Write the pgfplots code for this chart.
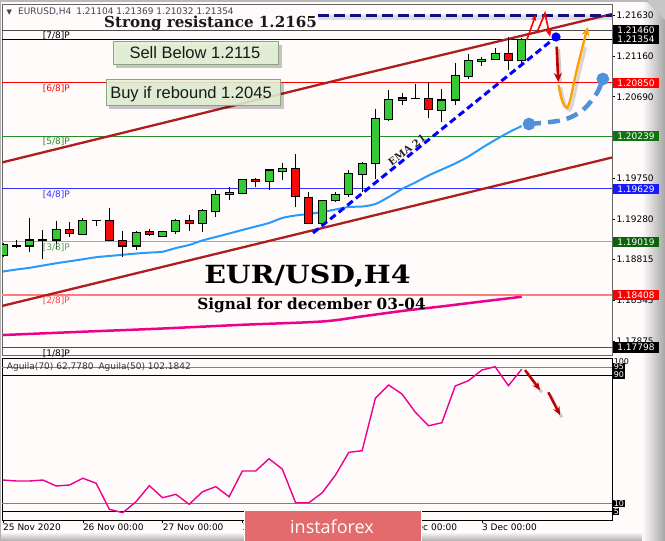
\documentclass[border=0pt]{standalone}
\usepackage{graphicx}
\usepackage{fontspec}
\setmainfont{DejaVu Sans}
\newfontfamily\hfont{DejaVu Serif}
\newfontfamily\afont{Liberation Sans}
\newfontfamily\lfont{Open Sans}
\usepackage{pgfplots}
\pgfplotsset{compat=1.18}
\usepackage{pgfplotstable}
\usetikzlibrary{arrows.meta}

\newcommand{\fs}[1]{\fontsize{#1}{#1}\selectfont}

\definecolor{bg}{RGB}{255,251,251}
\definecolor{cgreen}{RGB}{55,200,55}
\definecolor{cred}{RGB}{245,10,10}
\definecolor{mgreen}{RGB}{40,140,40}
\definecolor{lgreen}{RGB}{125,195,125}
\definecolor{mblue}{RGB}{50,50,255}
\definecolor{pinkred}{RGB}{255,125,125}
\definecolor{navyd}{RGB}{15,15,125}
\definecolor{firebrick}{RGB}{175,30,30}
\definecolor{emablue}{RGB}{40,155,250}
\definecolor{projblue}{RGB}{80,145,220}
\definecolor{dred}{RGB}{190,0,0}
\definecolor{orangec}{RGB}{255,160,0}
\definecolor{boxfill}{RGB}{227,241,213}
\definecolor{boxdraw}{RGB}{140,165,125}
\definecolor{logo}{RGB}{227,107,107}
\definecolor{boxgreen}{RGB}{15,115,15}
\definecolor{boxgreen2}{RGB}{10,100,10}
\definecolor{hdr}{RGB}{65,65,90}

% bullish candles: bar, open, high, low, close
\pgfplotstableread{
j o h l c
0 1.18866 1.19005 1.18843 1.18982
2 1.18970 1.19296 1.18904 1.19039
4 1.19039 1.19262 1.18932 1.19155
6 1.19105 1.19289 1.19100 1.19262
10 1.18970 1.19143 1.18924 1.19128
12 1.19085 1.19143 1.19070 1.19135
13 1.19135 1.19278 1.19108 1.19262
15 1.19224 1.19393 1.19135 1.19374
16 1.19366 1.19616 1.19308 1.19566
17 1.19566 1.19647 1.19500 1.19584
18 1.19578 1.19741 1.19575 1.19739
20 1.19719 1.19854 1.19616 1.19846
21 1.19834 1.19923 1.19731 1.19858
24 1.19224 1.19492 1.19193 1.19489
25 1.19489 1.19596 1.19474 1.19566
26 1.19566 1.19846 1.19535 1.19808
27 1.19797 1.19935 1.19589 1.19923
28 1.19923 1.20546 1.19742 1.20442
29 1.20430 1.20768 1.20411 1.20664
30 1.20653 1.20737 1.20595 1.20676
33 1.20530 1.20776 1.20396 1.20653
34 1.20653 1.21076 1.20595 1.20933
35 1.20921 1.21183 1.20891 1.21106
36 1.21094 1.21145 1.21045 1.21122
37 1.21122 1.21249 1.21114 1.21191
39 1.21104 1.21369 1.21032 1.21354
}\upcandles

% bearish candles
\pgfplotstableread{
j o h l c
5 1.19155 1.19243 1.19077 1.19117
8 1.19262 1.19405 1.19025 1.19028
9 1.19031 1.19143 1.18847 1.18970
11 1.19135 1.19163 1.19085 1.19108
14 1.19262 1.19324 1.19146 1.19224
19 1.19739 1.19750 1.19654 1.19719
22 1.19858 1.20031 1.19423 1.19538
23 1.19531 1.19589 1.19224 1.19232
32 1.20672 1.20864 1.20442 1.20538
38 1.21191 1.21382 1.20999 1.21104
}\downcandles

% doji candles
\pgfplotstableread{
j o h l c
1 1.18970 1.19039 1.18944 1.18972
3 1.19039 1.19155 1.18817 1.19035
7 1.19262 1.19266 1.19201 1.19264
31 1.20672 1.20834 1.20664 1.20670
}\dojicandles

% moving average (light blue)
\pgfplotstableread{
j p
0 1.18676
1 1.18699
2 1.18719
3 1.18745
4 1.18771
5 1.18794
6 1.18817
7 1.18841
8 1.18855
9 1.18869
10 1.18883
11 1.18894
12 1.18904
13 1.18947
14 1.18982
15 1.19034
16 1.19074
17 1.19114
18 1.19155
19 1.19195
20 1.19235
21 1.19293
22 1.19322
23 1.19339
24 1.19362
25 1.19391
26 1.19420
27 1.19425
28 1.19454
29 1.19535
30 1.19627
31 1.19702
32 1.19783
33 1.19852
34 1.19921
35 1.20002
36 1.20100
37 1.20192
38 1.20278
39 1.20353
}\emadata

% slow moving average (magenta)
\pgfplotstableread{
j p
0 1.17944
6 1.17982
12 1.18019
18 1.18062
24 1.18100
27 1.18159
30 1.18221
33 1.18274
36 1.18330
39 1.18385
}\madata

% Aguila oscillator
\pgfplotstableread{
j v
0 24.8
1 24.2
2 24.2
3 24.8
4 21.1
5 21.7
6 25.9
7 22.8
8 6.6
9 4.5
10 11.3
11 21.3
12 13.8
13 15.9
14 9.7
15 17.5
16 20.7
17 14.4
18 30.4
19 30.4
20 38.0
21 31.6
22 10.7
23 10.7
24 16.9
25 27.9
26 42.0
27 43.0
28 75.6
29 83.8
30 78.2
31 66.9
32 58.5
33 60.4
34 83.2
35 86.5
36 93.1
37 95.2
38 83.4
39 93.6
}\aguila

\newcommand{\wicks}[1]{%
  \addplot[black, line width=1pt, quiver={u=0, v=\thisrow{h}-\thisrow{l}}]
    table[x=j, y=l] {#1};}
\newcommand{\outline}[1]{%
  \addplot[black, line width=9pt, quiver={u=0, v=abs(\thisrow{c}-\thisrow{o})+0.00012}]
    table[x=j, y expr={min(\thisrow{o},\thisrow{c})-0.00006}] {#1};}
\newcommand{\bodyfill}[2]{%
  \addplot[#2, line width=7pt, quiver={u=0, v=abs(\thisrow{c}-\thisrow{o})-0.00012}]
    table[x=j, y expr={min(\thisrow{o},\thisrow{c})+0.00006}] {#1};}

\tikzset{
  plbl/.style={anchor=west, inner sep=0.8pt, xshift=3.5pt, font=\fs{9}, text=black},
  blbl/.style={anchor=west, inner xsep=4.3pt, inner ysep=0.8pt, xshift=0.8pt, font=\fs{9}, text=white, minimum height=10.5pt},
  mlbl/.style={anchor=north west, inner sep=0pt, yshift=-1.3pt, font=\fs{9}},
  ilbl/.style={anchor=west, inner sep=0.6pt, xshift=1pt, font=\fs{8}, text=white, fill=black},
}

\begin{document}
\begin{tikzpicture}[x=1pt,y=1pt]
\useasboundingbox (0,0) rectangle (665,541);
\fill[bg] (0,0) rectangle (665,541);
% bevels
\shade[top color=bg, bottom color=gray!65] (0,0) rectangle (665,9);
\shade[left color=bg, right color=gray!70] (642,0) rectangle (665,541);
\fill[gray!45] (645,541) -- (665,541) -- (665,521) -- cycle;
\draw[gray!60, line width=1.2pt] (0.6,0) -- (0.6,541);
\draw[gray!55, line width=1.5pt] (0,540.2) -- (648,540.2);

% ================= main price panel =================
\begin{axis}[
  at={(2pt,186pt)}, anchor=south west,
  width=610pt, height=351pt, scale only axis,
  xmin=-0.0752, xmax=45.789, ymin=1.177138, ymax=1.217594,
  clip mode=individual,
  axis line style={black!60, line width=0.7pt},
  xtick=\empty,
  ytick={1.21630,1.21160,1.20690,1.19750,1.19280,1.18815,1.18345,1.17875},
  yticklabels={},
  ytick pos=right, tick align=outside, major tick length=3pt,
  every tick/.style={black, line width=0.6pt},
]
% Murrey levels
\addplot[black!70, line width=0.8pt] coordinates {(-1,1.21460) (47,1.21460)};
\addplot[black, line width=0.8pt] coordinates {(-1,1.21354) (47,1.21354)};
\addplot[red, line width=0.8pt] coordinates {(-1,1.20850) (47,1.20850)};
\addplot[mgreen, line width=0.8pt] coordinates {(-1,1.20239) (47,1.20239)};
\addplot[mblue, line width=0.8pt] coordinates {(-1,1.19629) (47,1.19629)};
\addplot[lgreen, line width=1.3pt] coordinates {(-1,1.19019) (47,1.19019)};
\addplot[pinkred, line width=1.6pt] coordinates {(-1,1.18408) (47,1.18408)};
\addplot[black!70, line width=0.8pt] coordinates {(-1,1.17798) (47,1.17798)};

% channel lines
\addplot[firebrick, line width=2.3pt] coordinates {(-0.075,1.19933) (25.34,1.20889) (45.79,1.21644)};
\addplot[firebrick, line width=2.3pt] coordinates {(-0.075,1.18279) (45.79,1.19990)};
% moving averages
\addplot[magenta, line width=2.5pt, smooth] table[x=j, y=p] {\madata};
\addplot[emablue, line width=2pt, smooth] table[x=j, y=p] {\emadata};

% candles
\wicks{\upcandles}
\wicks{\downcandles}
\wicks{\dojicandles}
\outline{\upcandles}
\outline{\downcandles}
\outline{\dojicandles}
\bodyfill{\upcandles}{cgreen}
\bodyfill{\downcandles}{cred}

% strong resistance
\addplot[black, opacity=0.12, line width=5pt] coordinates {(23.7,1.21600) (45.79,1.21600)};
\addplot[navyd, line width=3pt, dash pattern=on 11pt off 5pt] coordinates {(23.7,1.21630) (45.79,1.21630)};

% EMA 21 dashed trend
\addplot[blue, line width=3pt, dash pattern=on 7pt off 4pt, mark=*, mark indices={2}, mark size=3pt, mark options={solid, fill=blue}] coordinates {(23.31,1.19120) (41.58,1.21379)};
% projection
\addplot[projblue, line width=4.5pt, dash pattern=on 12pt off 7pt, smooth, mark=*, mark indices={1,5}, mark size=4pt, mark options={solid, fill=projblue}] coordinates {(39.55,1.20376) (42.1,1.20422) (43.6,1.20538) (44.66,1.20734) (45.1,1.20895)};

% arrows
\addplot[red, line width=1.6pt, -{Stealth[length=6pt,width=5pt]}] coordinates {(39.38,1.21344) (40.05,1.21633)};
\addplot[red, line width=1.6pt, -{Stealth[length=7pt,width=6pt]}] coordinates {(40.17,1.21440) (40.75,1.21652) (41.13,1.21383)};
\addplot[black, opacity=0.2, line width=3pt] coordinates {(41.78,1.21240) (41.90,1.20860)};
\addplot[dred, line width=2.6pt, -{Stealth[length=9pt,width=8pt]}] coordinates {(41.63,1.21267) (41.75,1.20860)};
\addplot[black, opacity=0.15, line width=3pt, smooth, tension=0.6] coordinates {(41.95,1.20800) (42.16,1.20650) (42.46,1.20552) (42.76,1.20581) (43.34,1.20973) (43.81,1.21261)};
\addplot[orangec, line width=2.4pt, smooth, tension=0.6, -{Stealth[length=9pt,width=8pt]}] coordinates {(41.77,1.20826) (41.98,1.20676) (42.26,1.20578) (42.56,1.20607) (43.14,1.20999) (43.61,1.21287) (43.96,1.21494)};

% Murrey labels
\node[mlbl, text=black] at (axis cs:2.98,1.21460) {[7/8]P};
\node[mlbl, text=red] at (axis cs:2.98,1.20850) {[6/8]P};
\node[mlbl, text=mgreen] at (axis cs:2.98,1.20239) {[5/8]P};
\node[mlbl, text=mblue] at (axis cs:2.98,1.19629) {[4/8]P};
\node[mlbl, text=mgreen!80] at (axis cs:2.98,1.19019) {[3/8]P};
\node[mlbl, text=red!75] at (axis cs:2.98,1.18408) {[2/8]P};
\node[mlbl, text=black] at (axis cs:2.98,1.17798) {[1/8]P};

% right price labels
\node[plbl] at (axis cs:45.789,1.21630) {1.21630};
\node[plbl] at (axis cs:45.789,1.21160) {1.21160};
\node[plbl] at (axis cs:45.789,1.20690) {1.20690};
\node[plbl] at (axis cs:45.789,1.19750) {1.19750};
\node[plbl] at (axis cs:45.789,1.19280) {1.19280};
\node[plbl] at (axis cs:45.789,1.18815) {1.18815};
\node[plbl] at (axis cs:45.789,1.18345) {1.18345};
\node[plbl] at (axis cs:45.789,1.17875) {1.17875};
\node[blbl, fill=black] at (axis cs:45.789,1.21354) {1.21354};
\node[blbl, fill=black] at (axis cs:45.789,1.21460) {1.21460};
\node[blbl, fill=red] at (axis cs:45.789,1.20850) {1.20850};
\node[blbl, fill=boxgreen] at (axis cs:45.789,1.20239) {1.20239};
\node[blbl, fill=blue!90] at (axis cs:45.789,1.19629) {1.19629};
\node[blbl, fill=boxgreen2] at (axis cs:45.789,1.19019) {1.19019};
\node[blbl, fill=red] at (axis cs:45.789,1.18408) {1.18408};
\node[blbl, fill=black] at (axis cs:45.789,1.17798) {1.17798};
\end{axis}

% ================= indicator panel =================
\begin{axis}[
  at={(2pt,21pt)}, anchor=south west,
  width=610pt, height=162pt, scale only axis,
  xmin=-0.0752, xmax=45.789, ymin=-0.03, ymax=100.59,
  clip mode=individual,
  axis line style={black, line width=0.7pt},
  ytick=\empty,
  xtick={0,6,12,18,24,30,36},
  xticklabels={\mbox{25 Nov 2020},\mbox{26 Nov 00:00},\mbox{27 Nov 00:00},\mbox{30 Nov 00:00},\mbox{1 Dec 00:00},\mbox{2 Dec 00:00},\mbox{3 Dec 00:00}},
  xtick pos=bottom, tick align=outside, major tick length=3pt,
  every tick/.style={black, line width=0.6pt},
  xticklabel style={anchor=north west, inner sep=0pt, font=\fs{9}, text=black, yshift=-1pt},
]
\addplot[black!50, line width=0.8pt] coordinates {(-1,95) (47,95)};
\addplot[black, line width=0.8pt] coordinates {(-1,90) (47,90)};
\addplot[black!50, line width=0.8pt] coordinates {(-1,10) (47,10)};
\addplot[black, line width=0.8pt] coordinates {(-1,5) (47,5)};
\addplot[magenta, line width=1.4pt] table[x=j, y=v] {\aguila};
\addplot[black, opacity=0.2, line width=3pt] coordinates {(39.4,91.5) (40.5,79.3)};
\addplot[dred, line width=2.4pt, -{Stealth[length=8pt,width=7pt]}] coordinates {(39.25,93.1) (40.38,80.7)};
\addplot[black, opacity=0.2, line width=3pt] coordinates {(41.15,77.7) (42.0,63.8)};
\addplot[dred, line width=2.4pt, -{Stealth[length=8pt,width=7pt]}] coordinates {(41.0,79.3) (41.88,65.2)};
\node[anchor=north west, inner sep=0.6pt, xshift=1pt, font=\fs{8}] at (axis cs:45.789,100.59) {100};
\node[ilbl] at (axis cs:45.789,95) {95};
\node[ilbl] at (axis cs:45.789,90) {90};
\node[ilbl] at (axis cs:45.789,10) {10};
\node[ilbl] at (axis cs:45.789,5) {5};
\end{axis}

% ================= texts =================
\node[anchor=base west, inner sep=0pt, text=hdr, font=\fs{7}] at (6.5,526) {▼};
\node[anchor=base west, inner sep=0pt, text=hdr, font=\fs{9}] at (18,526) {EURUSD,H4\hspace{5pt}1.21104 1.21369 1.21032 1.21354};
\node[anchor=west, inner sep=0pt, text=black!80, font=\fs{9}] at (6.7,173.5) {Aguila(70) 62.7780\hspace{5pt}Aguila(50) 102.1842};

% Strong resistance
\node[anchor=base west, inner sep=0pt, text=black!90, font=\hfont\bfseries\fs{15.1}] at (104,513.5) {Strong resistance 1.2165};

% boxes
\fill[black, opacity=0.22] (116.3,472.5) rectangle (282,496);
\draw[boxdraw, fill=boxfill, fill opacity=0.9, line width=1pt] (113.3,476) rectangle (278.3,499.3);
\node[anchor=base, inner sep=0pt, text=black!90, font=\afont\fs{16.5}] at (195,482.7) {Sell Below 1.2115};
\fill[black, opacity=0.22] (109,431.5) rectangle (283.5,457.5);
\draw[boxdraw, fill=boxfill, fill opacity=0.88, line width=1pt] (106,435) rectangle (280,461);
\node[anchor=base, inner sep=0pt, text=black!90, font=\afont\fs{16.5}] at (191,442.7) {Buy if rebound 1.2045};

% EMA 21 label
\node[rotate=37, inner sep=0pt, text=black!85, font=\hfont\bfseries\fs{10}] at (407,391) {EMA 21};

% title
\node[anchor=base, inner sep=0pt, text=black, font=\hfont\bfseries\fs{25}] at (307.5,257.7) {\scalebox{1.14}[1]{EUR/USD,H4}};
\node[anchor=base, inner sep=0pt, text=black, font=\hfont\bfseries\fs{15.3}] at (311.5,231.7) {Signal for december 03-04};

% logo
\fill[logo] (244,0) rectangle (422,31);
\draw[white, line width=1pt] (244.5,0) -- (244.5,30.5) -- (421.5,30.5) -- (421.5,0);
\node[text=white, inner sep=0pt, font=\lfont\fs{18}] at (332,14.5) {instaforex};
\end{tikzpicture}
\end{document}
